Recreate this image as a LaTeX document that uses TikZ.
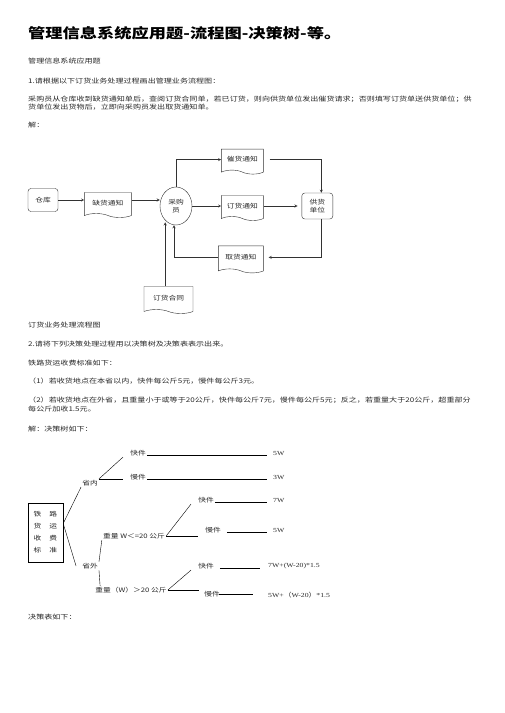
\documentclass[tikz,border=0pt]{standalone}
\usepackage{fontspec}
\usepackage{tikz}
\usetikzlibrary{shapes.geometric,shapes.symbols,arrows,positioning}
\setmainfont{Noto Sans CJK SC}[FakeStretch=1.25]
\newfontfamily\numfont{Liberation Serif}[FakeStretch=1.25]
\definecolor{textgray}{RGB}{40,40,40}
\definecolor{linegray}{RGB}{50,50,50}
\newcommand{\bodysize}{\fontsize{6.45}{8.5}\selectfont}
\newcommand{\chartsize}{\fontsize{6.2}{7.6}\selectfont}

\begin{document}
\begin{tikzpicture}[
    x=1pt, y=-1pt,
    para/.style={anchor=west, inner sep=0pt, font=\bodysize, text=textgray},
    store/.style={rectangle, rounded corners=3pt, draw=linegray, minimum width=30pt, minimum height=23pt, inner sep=0pt, font=\chartsize, text=textgray, align=center},
    doc/.style={tape, tape bend top=none, tape bend bottom=out and in, tape bend height=4pt, draw=linegray, minimum width=42pt, minimum height=25pt, inner sep=0pt, font=\chartsize, text=textgray},
    clerk/.style={ellipse, draw=linegray, minimum width=32pt, minimum height=38pt, inner sep=0pt, font=\chartsize, text=textgray, align=center},
    arrow/.style={->, >=stealth, draw=linegray},
    lbl/.style={inner sep=1pt, font=\chartsize, text=textgray},
    res/.style={anchor=west, inner sep=1pt, font=\numfont\chartsize, text=textgray},
    branch/.style={draw=black}
]
\path[use as bounding box, fill=white] (0,0) rectangle (504,713);

% page text
\node[anchor=west, inner sep=0pt, font=\bfseries\fontsize{13.8}{16}\selectfont] (title) at (28,33) {管理信息系统应用题-流程图-决策树-等。};
\node[para] (t1) at (28,61.5) {管理信息系统应用题};
\node[para] (t2) at (28,81) {1.请根据以下订货业务处理过程画出管理业务流程图：};
\node[para] (t3) at (28,99) {采购员从仓库收到缺货通知单后，查阅订货合同单，若已订货，则向供货单位发出催货请求；否则填写订货单送供货单位；供};
\node[para] (t4) at (28,107.5) {货单位发出货物后，立即向采购员发出取货通知单。};
\node[para] (t5) at (28,125) {解：};
\node[para] (t6) at (28,325.5) {订货业务处理流程图};
\node[para] (t7) at (28,344.5) {2.请将下列决策处理过程用以决策树及决策表表示出来。};
\node[para] (t8) at (28,363) {铁路货运收费标准如下：};
\node[para] (t9) at (28,381.5) {（1）若收货地点在本省以内，快件每公斤5元，慢件每公斤3元。};
\node[para] (t10) at (28,400) {（2）若收货地点在外省，且重量小于或等于20公斤，快件每公斤7元，慢件每公斤5元；反之，若重量大于20公斤，超重部分};
\node[para] (t11) at (28,409) {每公斤加收1.5元。};
\node[para] (t12) at (28,429.5) {解：决策树如下：};
\node[para] (t13) at (28,617.5) {决策表如下：};

% flowchart
\node[store] (cangku) at (43,200) {仓库};
\node[doc, minimum width=47pt, right=26pt of cangku, yshift=-3pt] (quehuo) {缺货通知};
\node[clerk] (caigou) at (176,206) {采购\\员};
\node[doc, right=29pt of caigou] (dinghuo) {订货通知};
\node[doc, above=25pt of dinghuo] (cuihuo) {催货通知};
\node[store, minimum width=31pt, minimum height=26pt, right=38pt of dinghuo] (gonghuo) {供货\\单位};
\node[doc, minimum width=45pt, minimum height=27pt, below=29pt of dinghuo, xshift=-1.5pt] (quhuo) {取货通知};
\node[doc, minimum width=49pt, minimum height=27pt] (hetong) at (168.5,298) {订货合同};

\draw[arrow] (cangku.east) -- (cangku.east -| quehuo.west);
\draw[arrow] (quehuo.east |- cangku.east) -- (caigou.west |- cangku.east);
\draw[arrow] (caigou.north) |- (cuihuo.west);
\draw[arrow] (caigou.east) -- (dinghuo.west);
\draw[arrow, shorten >=4pt] (dinghuo.east) -- (gonghuo.west);
\draw[arrow, shorten <=6pt] (cuihuo.east) -| ([xshift=4pt]gonghuo.north);
\draw[arrow, shorten >=5pt] ([xshift=4pt]gonghuo.south) |- (quhuo.east);
\draw[arrow] (quhuo.west) -| ([xshift=-2pt]caigou.south);
\draw[arrow, shorten >=2pt] (hetong.north -| caigou.233) -- (caigou.233);

% decision tree
\node[draw=black, minimum width=35pt, minimum height=59pt, inner sep=0pt, align=center, font=\fontsize{6.2}{12}\selectfont, text=textgray] (biaozhun) at (45.5,532.5) {铁\hspace{8pt}路\\货\hspace{8pt}运\\收\hspace{8pt}费\\标\hspace{8pt}准};
\node[lbl] (shengnei) at (90,483) {省内};
\node[lbl] (shengwai) at (90,566) {省外};
\node[lbl] (kj1) at (138,453) {快件};
\node[lbl] (mj1) at (138,477) {慢件};
\node[lbl] (wle) at (134,536) {重量 W＜=20 公斤};
\node[lbl] (wgt) at (131,590) {重量（W）＞20 公斤};
\node[lbl] (kj2) at (206,500) {快件};
\node[lbl] (mj2) at (213,530) {慢件};
\node[lbl] (kj3) at (206,566) {快件};
\node[lbl] (mj3) at (212,594) {慢件};
\node[res] (r1) at (272,454) {5W};
\node[res] (r2) at (272,477) {3W};
\node[res] (r3) at (272,501) {7W};
\node[res] (r4) at (272,531) {5W};
\node[res] (r5) at (267,566) {7W+(W-20)*1.5};
\node[res] (r6) at (267,595) {5W+{\normalfont（}W-20{\normalfont）}*1.5};

\draw[branch] ([yshift=9pt]biaozhun.east) -- (shengnei.south west);
\draw[branch] ([yshift=9pt]biaozhun.east) -- ([xshift=-5pt]shengwai.west);
\draw[branch] (shengnei.north east) -- ([xshift=-6pt]kj1.south west);
\draw[branch, shorten >=6pt] (shengnei.north east) -- (shengnei.north east -| mj1.west);
\draw[branch, thick, shorten >=5pt] (kj1.base east) -- (kj1.base east -| r1.west);
\draw[branch, shorten >=5pt] (mj1.base east) -- (mj1.base east -| r2.west);
\draw[branch] (shengwai.north east) -- (wle.south west);
\draw[branch] (shengwai.south east) -- ([xshift=6pt]wgt.north west);
\draw[branch] (wle.east) -- ([xshift=-6pt]kj2.south west);
\draw[branch, thick, shorten >=6pt] (wle.east) -- (wle.east -| mj2.west);
\draw[branch, shorten >=5pt] (kj2.base east) -- (kj2.base east -| r3.west);
\draw[branch, thick, shorten <=5pt, shorten >=5pt] (mj2.base east) -- (mj2.base east -| r4.west);
\draw[branch] (wgt.east) -- ([xshift=-6pt]kj3.south west);
\draw[branch, shorten >=4pt] (wgt.east) -- (wgt.east -| mj3.west);
\draw[branch, shorten <=5pt, shorten >=7pt] (kj3.base east) -- (kj3.base east -| r5.west);
\draw[branch, shorten <=-2pt, shorten >=14pt] (mj3.east) -- (mj3.east -| r6.west);
\end{tikzpicture}
\end{document}
